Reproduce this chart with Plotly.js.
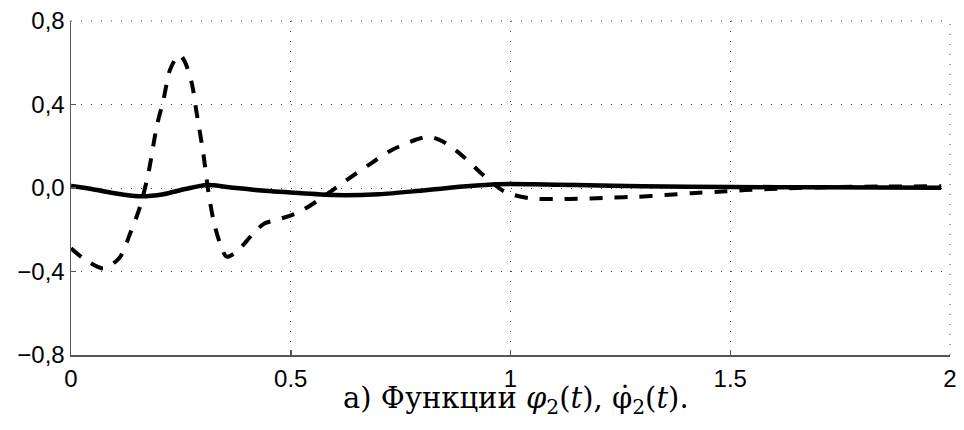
<!DOCTYPE html>
<html>
<head>
<meta charset="utf-8">
<script src="https://cdn.plot.ly/plotly-3.0.1.min.js"></script>
<style>html,body{margin:0;padding:0;background:#fff;}#chart{width:964px;height:430px;}</style>
</head>
<body>
<div id="chart"></div>
<script>
// φ2(t) — solid line
const tPhi = [0, 0.04, 0.08, 0.12, 0.16, 0.21, 0.26, 0.31, 0.36, 0.42, 0.5, 0.6, 0.7, 0.8, 0.9, 0.97, 1.05, 1.15, 1.3, 1.5, 1.7, 1.98];
const phi  = [0.01, -0.002, -0.018, -0.032, -0.04, -0.03, -0.005, 0.014, 0.004, -0.01, -0.022, -0.034, -0.03, -0.012, 0.008, 0.018, 0.018, 0.014, 0.008, 0.005, 0.003, 0.001];

// dφ2/dt — dashed line
const tDphi = [0, 0.03, 0.074, 0.11, 0.135, 0.157, 0.176, 0.195, 0.21, 0.225, 0.24, 0.248, 0.259, 0.275, 0.286, 0.301, 0.312, 0.324, 0.339, 0.354, 0.377, 0.415, 0.44, 0.468, 0.521, 0.574, 0.627, 0.677, 0.73, 0.783, 0.813, 0.847, 0.893, 0.938, 0.987, 1.044, 1.105, 1.166, 1.226, 1.287, 1.351, 1.412, 1.473, 1.534, 1.59, 1.65, 1.75, 1.85, 1.98];
const dphi  = [-0.289, -0.34, -0.385, -0.335, -0.216, -0.09, 0.07, 0.294, 0.42, 0.565, 0.625, 0.637, 0.605, 0.5, 0.358, 0.166, -0.01, -0.153, -0.265, -0.329, -0.305, -0.217, -0.17, -0.153, -0.113, -0.042, 0.038, 0.11, 0.182, 0.23, 0.246, 0.222, 0.15, 0.062, -0.018, -0.049, -0.053, -0.051, -0.046, -0.042, -0.034, -0.025, -0.018, -0.01, -0.005, 0.0, 0.005, 0.007, 0.008];

const xTickVals = [0, 0.5, 1, 1.5, 2];
const xTickText = ['0', '0.5', '1', '1.5', '2'];
const yTickVals = [-0.8, -0.4, 0, 0.4, 0.8];
const yTickText = ['\u22120,8', '\u22120,4', '0,0', '0,4', '0,8'];
const titleText = '\u0430) \u0424\u0443\u043d\u043a\u0446\u0438\u0438 <i>\u03c6</i><sub>2</sub>(<i>t</i>), \u03c6\u0307<sub>2</sub>(<i>t</i>).';

const traces = [
  {x: tDphi, y: dphi, mode: 'lines', line: {color: '#000', width: 4, dash: '13px,12px', shape: 'spline', smoothing: 0.8}, hoverinfo: 'skip'},
  {x: tPhi, y: phi, mode: 'lines', line: {color: '#000', width: 4.5, shape: 'spline', smoothing: 0.8}, hoverinfo: 'skip'}
];

const axisCommon = {
  showline: true, linecolor: '#555', linewidth: 1.5,
  ticks: 'inside', ticklen: 5, tickcolor: '#555', tickwidth: 1.5,
  showgrid: true, gridcolor: '#444', gridwidth: 1, griddash: '1px,9px',
  zeroline: false, mirror: false,
  tickfont: {family: 'Liberation Sans, Arial, sans-serif', size: 24, color: '#000'}
};

const borderDash = '1px,9px';

const layout = {
  width: 964, height: 430,
  margin: {l: 71, r: 14, t: 21, b: 75},
  paper_bgcolor: '#fff', plot_bgcolor: '#fff',
  showlegend: false,
  xaxis: Object.assign({}, axisCommon, {range: [0, 2], tickmode: 'array', tickvals: xTickVals, ticktext: xTickText, ticklabelstandoff: 2}),
  yaxis: Object.assign({}, axisCommon, {range: [-0.8, 0.8], tickmode: 'array', tickvals: yTickVals, ticktext: yTickText}),
  shapes: [
    {type: 'line', xref: 'paper', yref: 'paper', x0: 0, x1: 1, y0: 1, y1: 1, line: {color: '#444', width: 1, dash: borderDash}},
    {type: 'line', xref: 'paper', yref: 'paper', x0: 1, x1: 1, y0: 0, y1: 1, line: {color: '#444', width: 1, dash: borderDash}}
  ],
  annotations: [{
    text: titleText, xref: 'paper', yref: 'paper', x: 0.506, y: -0.135,
    xanchor: 'center', yanchor: 'middle', showarrow: false,
    font: {family: 'DejaVu Serif, Liberation Serif, serif', size: 29, color: '#000'}
  }]
};

Plotly.newPlot('chart', traces, layout, {staticPlot: true, displayModeBar: false});
</script>
</body>
</html>
